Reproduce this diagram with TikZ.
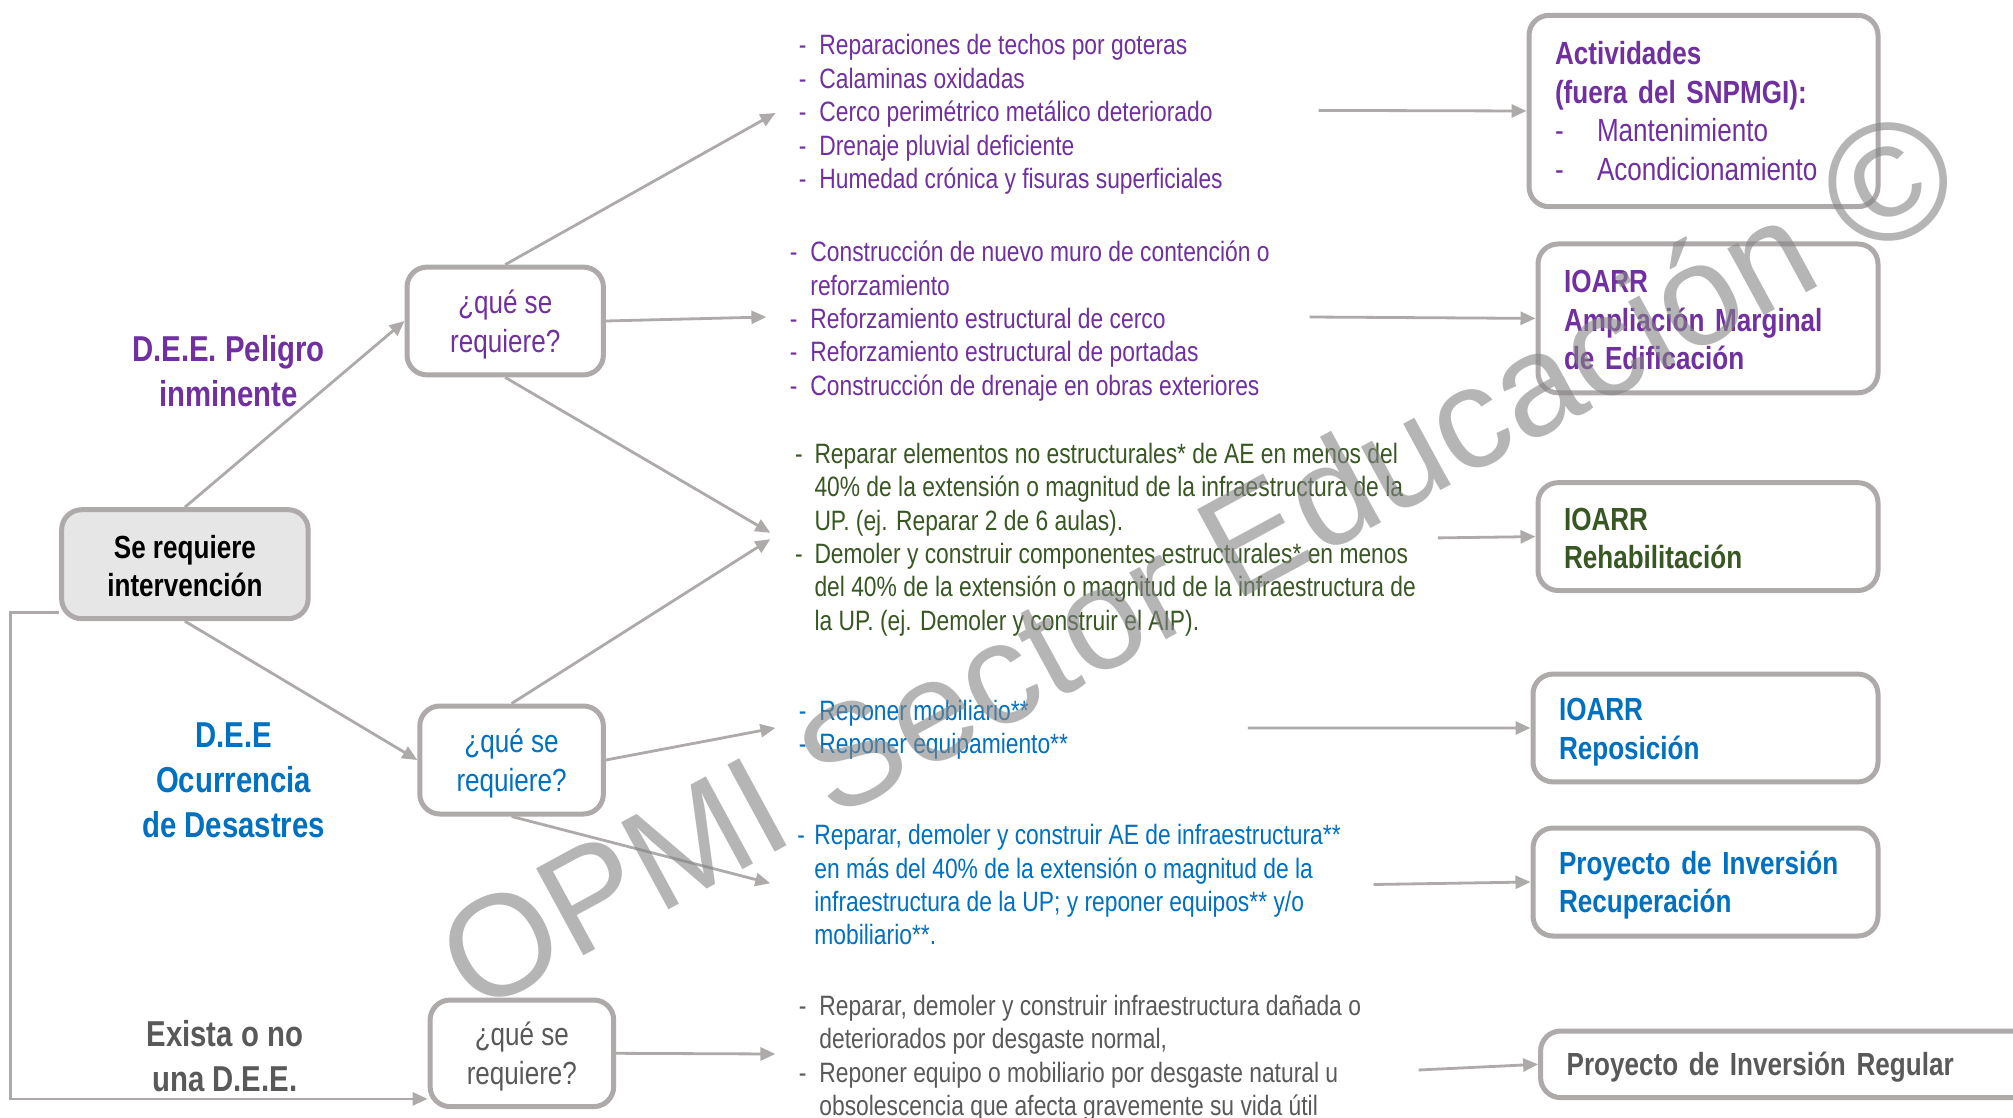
\documentclass[tikz,border=0pt]{standalone}
\usepackage{fontspec}
\setmainfont{Liberation Sans}[FakeStretch=0.815]
\newfontfamily\wmfont{Liberation Sans}
\usetikzlibrary{arrows.meta}
\definecolor{pur}{HTML}{7030A0}
\definecolor{blu}{HTML}{0070C0}
\definecolor{grn}{HTML}{385723}
\definecolor{dgr}{HTML}{595959}
\definecolor{lgr}{HTML}{AEAAAA}
\definecolor{fillg}{HTML}{E7E6E6}
\definecolor{wmc}{HTML}{858585}
\newcommand{\blist}[2]{\begin{tabular}[t]{@{}p{#1}@{}l@{}}#2\end{tabular}}
\newcommand{\up}[1]{\rule{0pt}{#1}}
\begin{document}
\begin{tikzpicture}[x=0.5pt,y=-0.5pt,
  box/.style={draw=lgr, line width=2.5pt, rounded corners=10pt, fill=white, inner sep=0pt},
  qbox/.style={box, align=center, font=\fontsize{16}{19.3}\selectfont},
  rbox/.style={box, align=left, inner xsep=13pt, font=\bfseries\fontsize{16}{19.3}\selectfont},
  conn/.style={draw=lgr, line width=1.4pt, -{Triangle[length=7.5pt,width=6.5pt]}},
  lbl/.style={align=center, inner sep=0pt, font=\bfseries\fontsize{18}{22.5}\selectfont},
  blk/.style={anchor=base west, inner sep=0pt, font=\fontsize{14}{16.7}\selectfont},
]
\fill[white] (0,0) rectangle (2013,1118);
\useasboundingbox (0,0) rectangle (2013,1118);

% left column
\node[box, fill=fillg, minimum width=123.25pt, minimum height=54.5pt, align=center,
      font=\bfseries\fontsize{16}{19}\selectfont] (se) at (184.9,564.2) {\up{13.1pt}Se requiere\\intervención};
\node[lbl, text=pur] (l1) at (228.5,371.5) {D.E.E. Peligro\\inminente};
\node[lbl, text=blu] (l2) at (233.6,780.5) {D.E.E\\Ocurrencia\\de Desastres};
\node[lbl, text=dgr] (l3) at (224.7,1056.5) {Exista o no\\una D.E.E.};

% question boxes
\node[qbox, text=pur, minimum width=98.2pt, minimum height=53.9pt] (q1) at (505.2,321) {\up{15.2pt}¿qué se\\requiere?};
\node[qbox, text=blu, minimum width=91.8pt, minimum height=54pt] (q2) at (511.6,760) {\up{15.2pt}¿qué se\\requiere?};
\node[qbox, text=dgr, minimum width=91.8pt, minimum height=53.3pt] (q3) at (521.9,1053.3) {\up{15.2pt}¿qué se\\requiere?};

% right boxes
\node[rbox, text=pur, minimum width=174.5pt, minimum height=95.65pt, text width=148.5pt] (act) at (1703.5,111)
  {Actividades\\(fuera del SNPMGI):\\{\mdseries\makebox[21pt][l]{-}Mantenimiento}\\{\mdseries\makebox[21pt][l]{-}Acondicionamiento}};
\node[rbox, text=pur, minimum width=170pt, minimum height=74.4pt, text width=144pt] (amp) at (1708,318.4)
  {\up{13pt}IOARR\\Ampliación Marginal\\de Edificación};
\node[rbox, text=grn, minimum width=170pt, minimum height=53.9pt, text width=144pt] (reh) at (1708,536.6)
  {\up{13pt}IOARR\\Rehabilitación};
\node[rbox, text=blu, minimum width=172.5pt, minimum height=53.9pt, text width=146.5pt] (repo) at (1705.5,728)
  {\up{15.3pt}IOARR\\Reposición};
\node[rbox, text=blu, minimum width=172.5pt, minimum height=54pt, text width=146.5pt] (recu) at (1705.5,882)
  {\up{15pt}Proyecto de Inversión\\Recuperación};
\node[rbox, text=dgr, minimum width=254.7pt, minimum height=33.3pt, text width=228.7pt] (reg) at (1795.3,1064.3)
  {\up{14.5pt}Proyecto de Inversión Regular};

% text blocks
\node[blk, text=pur] (b1) at (798.5,55) {\blist{10.25pt}{%
  - & Reparaciones de techos por goteras\\
  - & Calaminas oxidadas\\
  - & Cerco perimétrico metálico deteriorado\\
  - & Drenaje pluvial deficiente\\
  - & Humedad crónica y fisuras superficiales}};
\node[blk, text=pur] (b2) at (789.5,261.7) {\blist{10.25pt}{%
  - & Construcción de nuevo muro de contención o\\
    & reforzamiento\\
  - & Reforzamiento estructural de cerco\\
  - & Reforzamiento estructural de portadas\\
  - & Construcción de drenaje en obras exteriores}};
\node[blk, text=grn] (b3) at (794.7,463.3) {\blist{9.7pt}{%
  - & Reparar elementos no estructurales* de AE en menos del\\
    & 40\% de la extensión o magnitud de la infraestructura de la\\
    & UP. (ej. Reparar 2 de 6 aulas).\\
  - & Demoler y construir componentes estructurales* en menos\\
    & del 40\% de la extensión o magnitud de la infraestructura de\\
    & la UP. (ej. Demoler y construir el AIP).}};
\node[blk, text=blu] (b4) at (798.5,720.1) {\blist{10.25pt}{%
  - & Reponer mobiliario**\\
  - & Reponer equipamiento**}};
\node[blk, text=blu] (b5) at (797,844.6) {\blist{8.5pt}{%
  - & Reparar, demoler y construir AE de infraestructura**\\
    & en más del 40\% de la extensión o magnitud de la\\
    & infraestructura de la UP; y reponer equipos** y/o\\
    & mobiliario**.}};
\node[blk, text=dgr] (b6) at (798.5,1015.3) {\blist{10.25pt}{%
  - & Reparar, demoler y construir infraestructura dañada o\\
    & deteriorados por desgaste normal,\\
  - & Reponer equipo o mobiliario por desgaste natural u\\
    & obsolescencia que afecta gravemente su vida útil}};

% connector end points
\coordinate (b1in) at (775.4,113);
\coordinate (b2in) at (766.4,317);
\coordinate (b3ina) at (770.3,532.8);
\coordinate (b3inb) at (770.3,539.2);
\coordinate (b4in) at (775.4,727.9);
\coordinate (b5in) at (770.3,883.3);
\coordinate (b6in) at (775.4,1054);
\coordinate (b1out) at (1318.5,110.4);
\coordinate (b2out) at (1309.5,317);
\coordinate (b3out) at (1437.9,537.9);
\coordinate (b4out) at (1247.9,727.9);
\coordinate (b5out) at (1373.7,884.5);
\coordinate (b6out) at (1418.6,1070);

% connectors
\draw[conn] (se.north) -- (q1.west);
\draw[conn] (se.south) -- (q2.west);
\draw[conn] ([yshift=4.5pt]se.south west) -- ++(-48.5,0) |- ([yshift=-22.8pt]q3.west);
\draw[conn] (q1.north) -- (b1in);
\draw[conn] (q1.east) -- (b2in);
\draw[conn] (q1.south) -- (b3ina);
\draw[conn] (q2.north) -- (b3inb);
\draw[conn] (q2.east) -- (b4in);
\draw[conn] (q2.south) -- (b5in);
\draw[conn] (q3.east) -- (b6in);
\draw[conn] (b1out) -- (act.west);
\draw[conn] (b2out) -- (amp.west);
\draw[conn] (b3out) -- (reh.west);
\draw[conn] (b4out) -- (repo.west);
\draw[conn] (b5out) -- (recu.west);
\draw[conn] (b6out) -- (reg.west);

% watermark
\node[rotate=28.5, text=wmc, opacity=0.6, inner sep=0pt,
      font=\wmfont\fontsize{72}{72}\selectfont] (wm) at (1195,558.5) {OPMI Sector Educación \fontsize{84}{84}\selectfont©};
\end{tikzpicture}
\end{document}
